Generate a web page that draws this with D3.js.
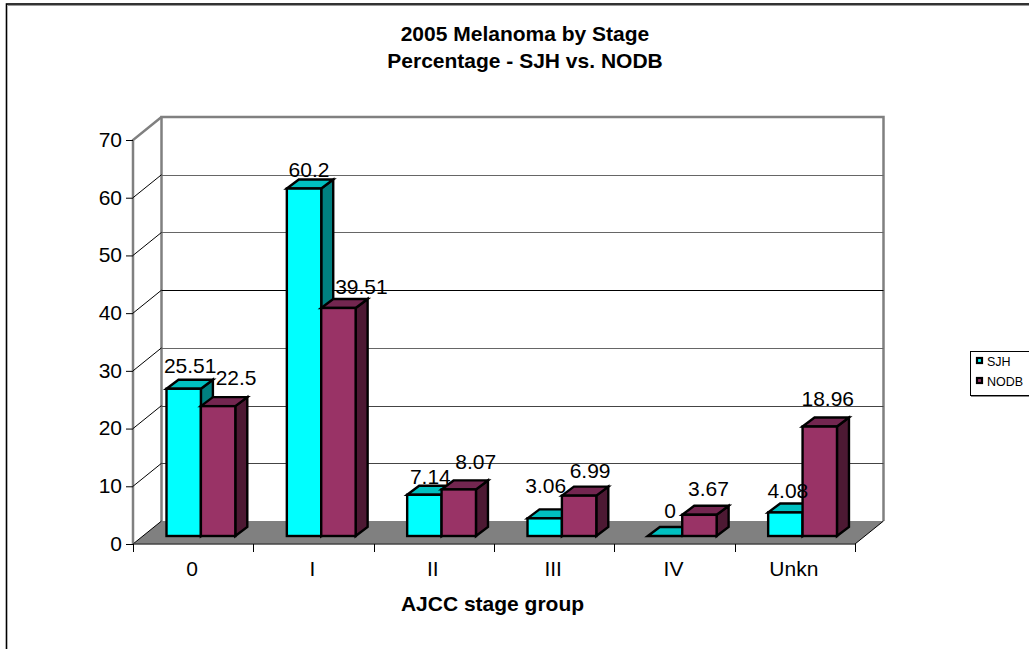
<!DOCTYPE html>
<html><head><meta charset="utf-8">
<script src="https://cdn.jsdelivr.net/npm/d3@7"></script>
<style>html,body{margin:0;padding:0;background:#fff}svg{display:block}text{font-family:"Liberation Sans",Arial,sans-serif;fill:#000}</style>
</head><body><svg id="c" width="1029" height="649"></svg>
<script>
const categories = ["0","I","II","III","IV","Unkn"];
const seriesNames = ["SJH","NODB"];
const sjh = [25.51,60.2,7.14,3.06,0,4.08];
const nodb = [22.5,39.51,8.07,6.99,3.67,18.96];
const yTicks = [0,10,20,30,40,50,60,70];
const titleLines = ["2005 Melanoma by Stage","Percentage - SJH vs. NODB"];
const xTitle = "AJCC stage group";

const svg = d3.select("#c");
const FS=21;
const dx=28.5, dy=23;          // floor depth
const bdx=12, bdy=9;           // bar depth
const x = d3.scaleBand().domain(categories).range([133,855]);
const y = d3.scaleLinear().domain([0,70]).range([544,140]);
const bw = 34.4, barLift=8, barOff=33.5;
// manual label placement, as the original chart's renderer nudged each label
const nudgeX = [[6.5,18],[5,23],[6,17],[1,11],[5,9],[2.5,8]];
const nudgeY = [[7,12],[3,5],[2,11.5],[16,9],[9,10],[5.5,12]];

// frame
svg.append("rect").attr("x",6.5).attr("y",4).attr("width",1030).attr("height",650).attr("fill","#fff").attr("stroke","#000").attr("stroke-width",1.6);
svg.append("line").attr("x1",8).attr("x2",1029).attr("y1",5.5).attr("y2",5.5).attr("stroke","#999");

// back + side walls
const g="#808080";
const x0=x.range()[0], x1=x.range()[1];
svg.append("path").attr("d",`M${x0+dx},${y(0)-dy}L${x0+dx},${y(70)-dy}L${x1+dx},${y(70)-dy}L${x1+dx},${y(0)-dy}`).attr("fill","none").attr("stroke",g).attr("stroke-width",2.5);
svg.append("path").attr("d",`M${x0},${y(0)}L${x0},${y(70)}L${x0+dx},${y(70)-dy}`).attr("fill","none").attr("stroke",g).attr("stroke-width",2.5);
// floor
svg.append("path").attr("d",`M${x0},${y(0)}L${x1},${y(0)}L${x1+dx},${y(0)-dy}L${x0+dx},${y(0)-dy}Z`).attr("fill",g);

// gridlines
const gridCol = {10:"#444",20:"#444",30:"#666",40:"#000",50:"#666",60:"#666"};
yTicks.slice(1,-1).forEach(t=>{
  svg.append("line").attr("x1",x0+dx).attr("x2",x1+dx).attr("y1",Math.round(y(t)-dy)+.5).attr("y2",Math.round(y(t)-dy)+.5).attr("stroke",gridCol[t]).attr("stroke-width",1);
  svg.append("line").attr("x1",x0).attr("x2",x0+dx).attr("y1",y(t)).attr("y2",y(t)-dy).attr("stroke","#000").attr("stroke-width",1);
});
svg.append("line").attr("x1",x1).attr("y1",y(0)).attr("x2",x1+dx).attr("y2",y(0)-dy).attr("stroke","#000");
svg.append("line").attr("x1",x0).attr("y1",y(0)).attr("x2",x0+dx).attr("y2",y(0)-dy).attr("stroke","#000");
svg.append("line").attr("x1",x0).attr("y1",y(0)).attr("x2",x1).attr("y2",y(0)).attr("stroke","#444").attr("stroke-width",1.5);

// axes
const yAxis = d3.axisLeft(y).tickValues(yTicks).tickSize(7).tickPadding(4).tickFormat(d3.format("d"));
const ga = svg.append("g").attr("transform",`translate(${x0},0)`).call(yAxis);
ga.select(".domain").remove();
ga.selectAll("line").attr("stroke","#000");
ga.selectAll("text").attr("font-size",FS).attr("dy","0.3em").style("font-family",'"Liberation Sans",Arial,sans-serif');
const xa = svg.append("g").attr("transform",`translate(-1,${y(0)})`).call(d3.axisBottom(x).tickSize(0).tickPadding(17));
xa.select(".domain").remove();
xa.selectAll("text").attr("font-size",FS).style("font-family",'"Liberation Sans",Arial,sans-serif');
d3.range(categories.length+1).forEach(i=>{
  const px = Math.round(x0 + i*x.bandwidth())+.5;
  svg.append("line").attr("x1",px).attr("x2",px).attr("y1",y(0)).attr("y2",y(0)+8).attr("stroke","#000");
});

// bars
const series=[
 {name:seriesNames[0],vals:sjh,front:"#00ffff",top:"#00c0c0",side:"#008080",off:0},
 {name:seriesNames[1],vals:nodb,front:"#993366",top:"#732650",side:"#4d1933",off:bw}
];
const barsG = svg.append("g");
categories.forEach((c,i)=>{
  series.forEach(s=>{
    const v=s.vals[i];
    const l=x(c)+barOff+s.off, r=l+bw, b=y(0)-barLift, t=y(v)-barLift;
    const G=barsG.append("g").attr("stroke","#000").attr("stroke-width",2.4).attr("stroke-linejoin","miter");
    G.append("path").attr("d",`M${r},${b}L${r+bdx},${b-bdy}L${r+bdx},${t-bdy}L${r},${t}Z`).attr("fill",s.side);
    G.append("path").attr("d",`M${l},${t}L${l+bdx},${t-bdy}L${r+bdx},${t-bdy}L${r},${t}Z`).attr("fill",s.top);
    if(v>0) G.append("rect").attr("x",l).attr("y",t).attr("width",bw).attr("height",b-t).attr("fill",s.front);
  });
});
// labels
categories.forEach((c,i)=>{
  series.forEach((s,j)=>{
    const v=s.vals[i];
    svg.append("text").attr("x",x(c)+barOff+s.off+bw/2+nudgeX[i][j]).attr("y",y(v)-barLift-bdy-nudgeY[i][j])
      .attr("text-anchor","middle").attr("font-size",FS).text(v);
  });
});

// titles
titleLines.forEach((t,i)=>svg.append("text").attr("x",525).attr("y",41+i*27).attr("text-anchor","middle").attr("font-size",FS).attr("font-weight","bold").text(t));
svg.append("text").attr("x",492.5).attr("y",611).attr("text-anchor","middle").attr("font-size",FS).attr("font-weight","bold").text(xTitle);

// legend
svg.append("rect").attr("x",970.5).attr("y",351.5).attr("width",60).attr("height",44).attr("fill","#fff").attr("stroke","#000");
svg.append("line").attr("x1",971).attr("x2",1029).attr("y1",396.5).attr("y2",396.5).attr("stroke","#888");
series.forEach((s,i)=>{
  const ly=361+i*20;
  svg.append("rect").attr("x",977).attr("y",ly-3).attr("width",5).attr("height",5).attr("fill",s.front).attr("stroke","#000").attr("stroke-width",2.2);
  svg.append("text").attr("x",987).attr("y",ly+5).attr("font-size",12.5).text(s.name);
});
</script></body></html>
